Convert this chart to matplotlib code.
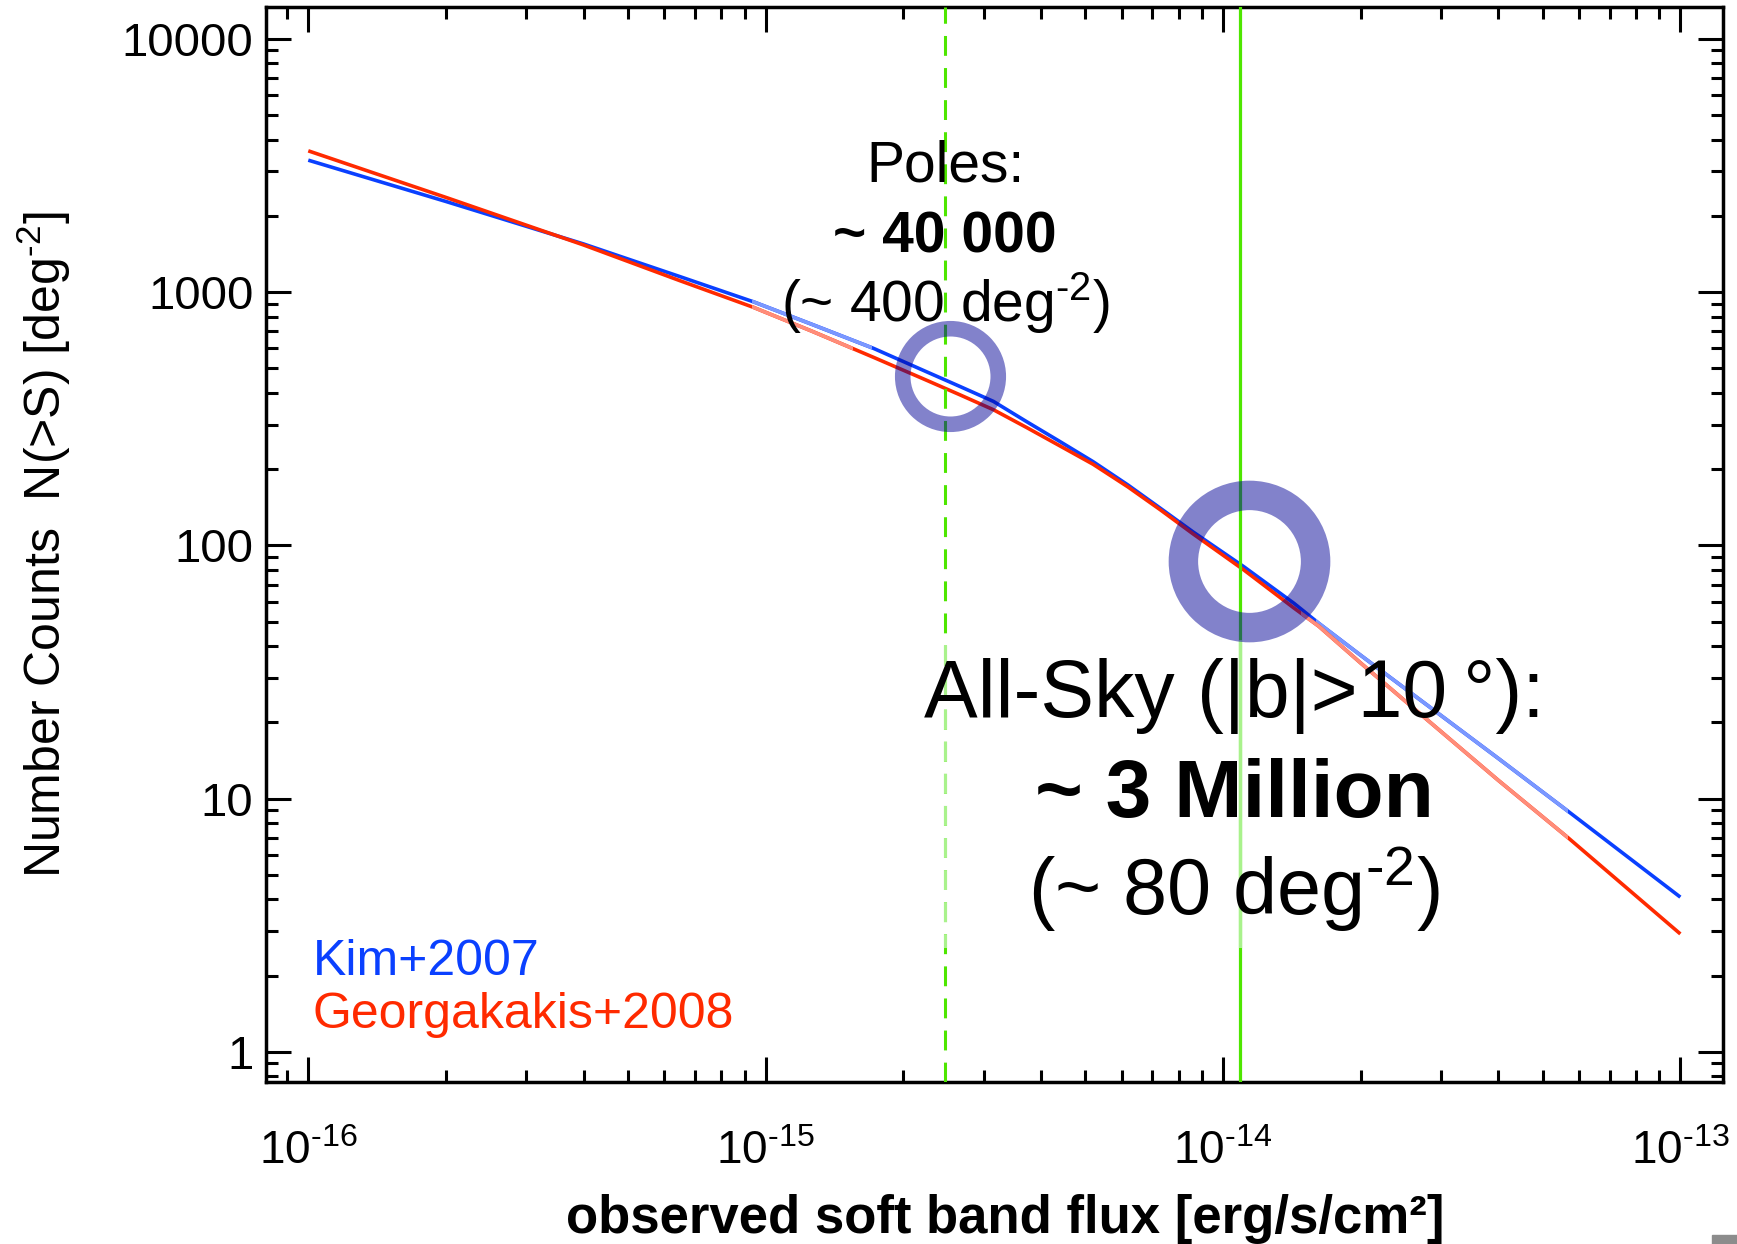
import numpy as np
import matplotlib
matplotlib.use("Agg")
import matplotlib.pyplot as plt
from matplotlib import transforms
from matplotlib.patches import Rectangle
from matplotlib.ticker import LogLocator, NullFormatter

plt.rcParams['font.family'] = ['Liberation Sans', 'DejaVu Sans']
plt.rcParams['mathtext.fontset'] = 'custom'
plt.rcParams['mathtext.rm'] = 'Liberation Sans'
plt.rcParams['mathtext.it'] = 'Liberation Sans:italic'
plt.rcParams['mathtext.bf'] = 'Liberation Sans:bold'

### logN-logS curves (soft band flux in erg/s/cm2, N(>S) per deg2)
flux = [1e-16, 2e-16, 4e-16, 6.5e-16, 9.4e-16, 1.26e-15, 1.72e-15, 2.24e-15,
        2.66e-15, 3.15e-15, 3.72e-15, 4.4e-15, 5.2e-15, 6.2e-15, 7.3e-15, 8.6e-15,
        1.11e-14, 1.43e-14, 1.62e-14, 2e-14, 2.5e-14, 4e-14, 5.7e-14, 1e-13]
kim07 = [3320, 2280, 1549, 1151, 916, 747, 600, 486,
         424, 370, 308, 257, 214, 173, 140, 113,
         82.4, 59.0, 49.2, 36.8, 27.2, 14.4, 8.87, 4.08]
geo08 = [3614, 2366, 1535, 1109, 871, 702, 553, 450,
         393, 343, 292, 247, 209, 170, 138, 111,
         80.0, 56.5, 47.9, 34.3, 24.3, 11.8, 6.97, 2.92]

## flux limits (green lines) and the circled points
poles_cut = 2.47e-15
allsky_cut = 1.09e-14
poles_pt = (2.53e-15, 465)
allsky_pt = (1.14e-14, 87)

xtick_vals = [1e-16, 1e-15, 1e-14, 1e-13]
xtick_labels = [r'$\mathdefault{10^{\text{-16}}}$', r'$\mathdefault{10^{\text{-15}}}$',
                r'$\mathdefault{10^{\text{-14}}}$', r'$\mathdefault{10^{\text{-13}}}$']
ytick_vals = [1, 10, 100, 1000, 10000]
ytick_labels = ['1', '10', '100', '1000', '10000']

blue = '#0a40ff'
red = '#ff2a00'
blue_light = '#7b98ff'
red_light = '#ff8d7a'
green = '#4ee600'
green_light = '#a9f28c'
ring = '#000096'

fig = plt.figure(figsize=(17.37, 12.44), dpi=100)
ax = fig.add_axes([0.1531, 0.1305, 0.8387, 0.8639])
ax.set_xscale('log')
ax.set_yscale('log')

xband = transforms.blended_transform_factory(ax.transData, ax.transAxes)
yband = transforms.blended_transform_factory(ax.transAxes, ax.transData)

def light_part(line, lo, hi, vertical=False):
    # clip a copy of the line to a band (the washed out bits of the original)
    if vertical:
        box = Rectangle((0, lo), 1, hi - lo, transform=yband)
    else:
        box = Rectangle((lo, 0), hi - lo, 1, transform=xband)
    line.set_clip_path(box)

lw = 2.6
ax.plot(flux, kim07, color=blue, lw=lw, solid_capstyle='butt', solid_joinstyle='round', zorder=2)
for lo, hi in [(9.35e-16, 1.71e-15), (1.6e-14, 5.68e-14)]:
    ln, = ax.plot(flux, kim07, color=blue_light, lw=lw, solid_capstyle='butt', zorder=2.1)
    light_part(ln, lo, hi)
ax.plot(flux, geo08, color=red, lw=lw, solid_capstyle='butt', solid_joinstyle='round', zorder=3)
for lo, hi in [(9.35e-16, 1.556e-15), (1.48e-14, 5.68e-14)]:
    ln, = ax.plot(flux, geo08, color=red_light, lw=lw, solid_capstyle='butt', zorder=3.1)
    light_part(ln, lo, hi)

# green flux limits
ax.axvline(poles_cut, color=green, lw=2.2, dashes=(6.5, 4), zorder=4)
d2 = ax.axvline(poles_cut, color=green_light, lw=2.2, dashes=(6.5, 4), zorder=4.1)
light_part(d2, 2.57, 42.3, vertical=True)
ax.axvline(allsky_cut, color=green, lw=2.3, zorder=4)
s2 = ax.axvline(allsky_cut, color=green_light, lw=2.3, zorder=4.1)
light_part(s2, 2.57, 42.3, vertical=True)

# rings
ax.plot([poles_pt[0]], [poles_pt[1]], 'o', ms=68.8, mfc='none', mec=ring, mew=11.2,
        alpha=0.49, zorder=5)
ax.plot([allsky_pt[0]], [allsky_pt[1]], 'o', ms=95.2, mfc='none', mec=ring, mew=21.2,
        alpha=0.49, zorder=5)

# annotations
ax.text(poles_cut, 2723, 'Poles:', ha='center', va='baseline', fontsize=41, zorder=6)
ax.text(poles_cut, 1429, '~ 40 000', ha='center', va='baseline', fontsize=41,
        fontweight='bold', zorder=6)
ax.text(poles_cut, 763, r'(~ 400 deg$^{\text{-2}}$)', ha='center', va='baseline',
        fontsize=41, zorder=6)
ax.text(1.06e-14, 21.0, u'All-Sky (|b|>10\u2009\u00b0):', ha='center', va='baseline',
        fontsize=58, zorder=6)
ax.text(1.06e-14, 8.45, '~ 3 Million', ha='center', va='baseline', fontsize=59,
        fontweight='bold', zorder=6)
ax.text(1.06e-14, 3.47, r'(~ 80 deg$^{\text{-2}}$)', ha='center', va='baseline',
        fontsize=57, zorder=6)

ax.text(0.032, 0.0993, 'Kim+2007', color=blue, fontsize=36, va='baseline',
        transform=ax.transAxes)
ax.text(0.032, 0.050, 'Georgakakis+2008', color=red, fontsize=36, va='baseline',
        transform=ax.transAxes)

ax.set_xlim(8.08e-17, 1.238e-13)
ax.set_ylim(0.762, 13370)

ax.set_xticks(xtick_vals, xtick_labels)
ax.xaxis.set_minor_locator(LogLocator(base=10, subs=np.arange(2, 10), numticks=20))
ax.xaxis.set_minor_formatter(NullFormatter())
ax.set_yticks(ytick_vals, ytick_labels)
ax.yaxis.set_minor_locator(LogLocator(base=10, subs=np.arange(2, 10), numticks=20))
ax.yaxis.set_minor_formatter(NullFormatter())

ax.tick_params(which='both', direction='in', top=True, right=True, width=2.2)
ax.tick_params(which='major', length=18)
ax.tick_params(which='minor', length=8.5)
ax.tick_params(axis='x', which='major', pad=35, labelsize=33)
ax.tick_params(axis='y', which='major', pad=9, labelsize=34)
for sp in ax.spines.values():
    sp.set_linewidth(2.5)

fig.text(0.0253, 0.562, r'Number Counts  N(>S) [deg$^{\text{-2}}$]', rotation=90,
         ha='center', va='center', fontsize=36)
fig.text(0.579, 0.0088, u'observed soft band flux [erg/s/cm\u00b2]', ha='center',
         va='baseline', fontsize=38, fontweight='bold')

# little grey tab in the bottom right corner of the original
fig.patches.append(Rectangle((1712 / 1737, 0), 25 / 1737, 9 / 1244,
                             transform=fig.transFigure, color='#8c8c8c'))

plt.savefig('out.png', dpi=100)
